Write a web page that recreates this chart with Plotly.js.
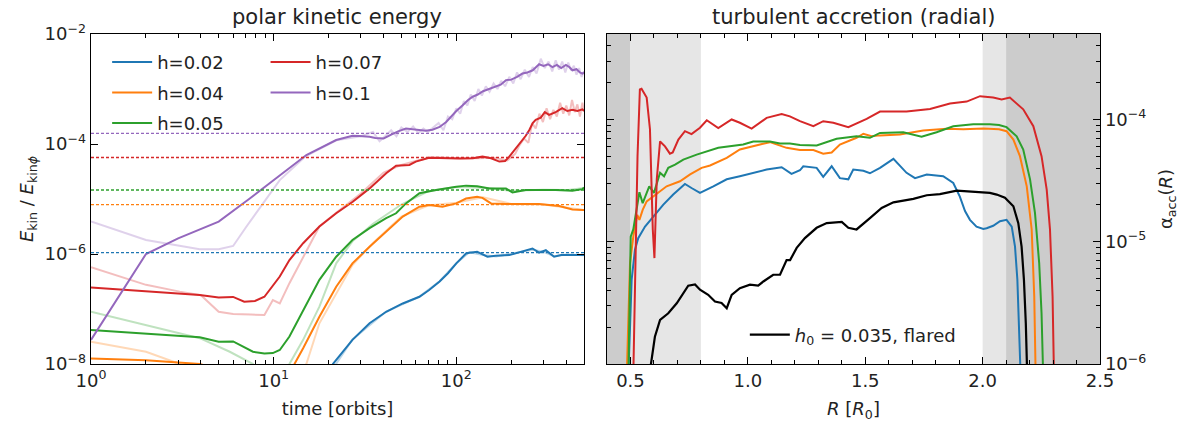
<!DOCTYPE html>
<html>
<head>
<meta charset="utf-8">
<script src="https://cdn.plot.ly/plotly-3.0.1.min.js"></script>
<style>
  html, body { margin: 0; padding: 0; background: #fff; }
  #chart { width: 1192px; height: 428px; }
</style>
</head>
<body>
<div id="chart"></div>
<script>
// ---------------- Left panel: polar kinetic energy ----------------
const hLabels = ["h=0.02", "h=0.04", "h=0.05", "h=0.07", "h=0.1"];
const hColors = ["#1f77b4", "#ff7f0e", "#2ca02c", "#d62728", "#9467bd"];
// saturation levels (dashed lines)
const levels = [1.06e-6, 7.9e-6, 1.46e-5, 5.7e-5, 1.56e-4];

// h=0.02
const t02 = [20, 21.1, 27, 33.5, 41.3, 50.9, 62.8, 71, 81, 90, 100, 113, 118, 130, 148, 164, 195, 230, 261, 284, 309, 343, 375, 430, 500];
const e02 = [6.31e-9, 1.0e-8, 2.75e-8, 5.50e-8, 8.91e-8, 1.26e-7, 1.67e-7, 2.21e-7, 3.16e-7, 4.47e-7, 6.76e-7, 1.02e-6, 1.05e-6, 1.10e-6, 8.91e-7, 9.33e-7, 9.55e-7, 1.10e-6, 1.26e-6, 1.06e-6, 1.17e-6, 8.91e-7, 9.55e-7, 9.55e-7, 9.55e-7];
const t02raw = [20, 27, 41.3, 62.8, 81, 100, 118, 140, 165, 195, 230, 261, 300, 343, 400, 500];
const e02raw = [6.3e-9, 2.8e-8, 9.0e-8, 1.68e-7, 3.2e-7, 6.8e-7, 1.08e-6, 9.6e-7, 9.0e-7, 1.0e-6, 1.08e-6, 1.2e-6, 1.1e-6, 9.1e-7, 9.8e-7, 9.5e-7];

// h=0.04
const t04 = [1, 2, 3.94, 5, 10, 13, 14.5, 17.8, 22, 27, 33.5, 41.3, 50.9, 62.8, 71, 84, 100, 113, 130, 139, 155, 187, 284, 366, 432, 490, 500];
const e04 = [1.26e-8, 1.17e-8, 1.0e-8, 7.9e-9, 3.2e-9, 1.0e-8, 1.93e-8, 7.24e-8, 2.54e-7, 6.76e-7, 1.35e-6, 2.54e-6, 4.79e-6, 7.24e-6, 7.76e-6, 7.24e-6, 8.32e-6, 1.02e-5, 1.10e-5, 1.05e-5, 8.32e-6, 8.13e-6, 8.13e-6, 7.46e-6, 6.46e-6, 6.31e-6, 6.31e-6];
const t04raw = [1, 2, 3.06, 5, 10, 15.1, 17.8, 22, 27, 35, 50, 70, 100, 140, 200, 300, 400, 500];
const e04raw = [2.54e-8, 1.67e-8, 1.0e-8, 5e-9, 3.2e-9, 1.0e-8, 5.50e-8, 1.93e-7, 6.31e-7, 1.58e-6, 4.79e-6, 7.59e-6, 8.51e-6, 1.07e-5, 8.13e-6, 7.94e-6, 6.92e-6, 6.31e-6];

// h=0.05
const t05 = [1, 3.94, 5, 6, 7.7, 8.9, 9.9, 10.8, 12.2, 14.5, 17.8, 22, 27, 33.5, 41.3, 46.8, 53, 62.8, 77.4, 100, 113, 130, 152, 187, 203, 240, 300, 350, 432, 490, 500];
const e05 = [4.17e-8, 3.05e-8, 2.54e-8, 2.57e-8, 1.67e-8, 1.56e-8, 1.58e-8, 1.80e-8, 3.16e-8, 9.55e-8, 3.39e-7, 8.91e-7, 1.80e-6, 2.95e-6, 4.47e-6, 5.50e-6, 8.32e-6, 1.27e-5, 1.46e-5, 1.67e-5, 1.75e-5, 1.70e-5, 1.56e-5, 1.55e-5, 1.32e-5, 1.46e-5, 1.48e-5, 1.46e-5, 1.41e-5, 1.51e-5, 1.62e-5];
const t05raw = [1, 2, 3.94, 5.75, 7.7, 8.5, 11.5, 12.2, 14.5, 17.8, 22, 27, 35, 50, 70, 100, 150, 200, 300, 400, 500];
const e05raw = [8.91e-8, 5.13e-8, 2.95e-8, 1.67e-8, 1.0e-8, 5.0e-9, 5.0e-9, 1.0e-8, 2.75e-8, 1.10e-7, 6.76e-7, 1.70e-6, 3.55e-6, 7.94e-6, 1.38e-5, 1.66e-5, 1.58e-5, 1.41e-5, 1.48e-5, 1.45e-5, 1.58e-5];

// h=0.07
const t07 = [1, 3.94, 5, 6, 6.9, 7.9, 8.9, 10.8, 12.2, 14.5, 17.8, 22, 27.1, 33.5, 41.3, 46.8, 55.3, 60, 71, 81, 91, 105, 123, 139, 155, 172, 185, 195, 210, 230, 240, 251, 262, 272, 290, 305, 322, 350, 380, 405, 432, 460, 490, 500];
const e07 = [2.45e-7, 1.80e-7, 1.62e-7, 1.66e-7, 1.36e-7, 1.40e-7, 1.67e-7, 3.89e-7, 7.76e-7, 1.57e-6, 3.16e-6, 5.50e-6, 8.91e-6, 1.56e-5, 2.95e-5, 4.03e-5, 4.17e-5, 4.79e-5, 5.62e-5, 5.62e-5, 5.50e-5, 5.43e-5, 5.50e-5, 5.89e-5, 5.50e-5, 4.79e-5, 4.90e-5, 5.89e-5, 7.94e-5, 1.17e-4, 1.41e-4, 1.80e-4, 2.40e-4, 2.75e-4, 3.02e-4, 3.80e-4, 3.39e-4, 3.80e-4, 4.47e-4, 3.98e-4, 4.17e-4, 3.98e-4, 4.27e-4, 3.98e-4];
const t07raw = [1, 2, 3.06, 4, 5, 6, 7.5, 8.9, 9.9, 10.8, 12.2, 14.5, 17.8, 22, 30, 40, 50, 60, 70, 80, 100, 130, 160, 190, 210, 222, 235, 248, 260, 272, 285, 298, 312, 326, 340, 355, 370, 385, 400, 415, 430, 445, 460, 475, 490, 500];
const e07raw = [5.75e-7, 2.75e-7, 2.07e-7, 1.78e-7, 8.91e-8, 8.13e-8, 7.94e-8, 7.76e-8, 1.45e-7, 1.26e-7, 2.95e-7, 8.91e-7, 3.16e-6, 5.62e-6, 1.26e-5, 3.02e-5, 4.17e-5, 4.90e-5, 5.62e-5, 5.75e-5, 5.50e-5, 5.50e-5, 5.62e-5, 5.01e-5, 6.61e-5, 9.55e-5, 1.26e-4, 1.05e-4, 2.40e-4, 1.91e-4, 3.55e-4, 2.51e-4, 4.47e-4, 2.82e-4, 4.17e-4, 3.16e-4, 5.62e-4, 3.55e-4, 5.01e-4, 3.31e-4, 6.31e-4, 3.80e-4, 5.25e-4, 3.16e-4, 5.62e-4, 3.98e-4];

// h=0.1
const t10 = [1, 2, 3, 5, 7.4, 10.8, 15.1, 22, 27, 29.5, 33.5, 36, 40, 44, 48, 53, 58, 63, 68, 74, 81, 88, 95, 100, 108, 116, 123, 131, 140, 152, 163, 175, 187, 200, 215, 230, 245, 262, 284, 300, 318, 336, 355, 375, 398, 415, 432, 455, 475, 490, 500];
const e10 = [2.75e-8, 1.0e-6, 1.93e-6, 3.89e-6, 1.02e-5, 2.65e-5, 6.31e-5, 1.18e-4, 1.41e-4, 1.40e-4, 1.36e-4, 1.29e-4, 1.26e-4, 1.48e-4, 1.70e-4, 1.91e-4, 1.86e-4, 1.78e-4, 1.74e-4, 1.82e-4, 2.04e-4, 2.51e-4, 3.31e-4, 3.98e-4, 5.01e-4, 6.31e-4, 7.24e-4, 7.94e-4, 9.12e-4, 1.02e-3, 1.10e-3, 1.20e-3, 1.45e-3, 1.48e-3, 1.66e-3, 1.91e-3, 2.0e-3, 2.19e-3, 2.82e-3, 2.63e-3, 2.82e-3, 2.51e-3, 2.75e-3, 2.40e-3, 2.75e-3, 2.51e-3, 2.19e-3, 2.29e-3, 2.0e-3, 1.91e-3, 2.0e-3];
const t10raw = [1, 2, 3.94, 5, 6, 7.1, 10.8, 15, 22, 30, 35, 38, 41, 44, 47, 50, 54, 58, 62, 66, 70, 75, 80, 85, 90, 95, 100, 105, 110, 115, 120, 126, 132, 138, 145, 152, 160, 168, 176, 185, 195, 205, 215, 225, 237, 250, 262, 275, 290, 305, 320, 335, 350, 365, 380, 395, 410, 425, 440, 455, 470, 485, 500];
const e10raw = [3.89e-6, 1.80e-6, 1.22e-6, 1.22e-6, 1.40e-6, 3.16e-6, 2.21e-5, 6.03e-5, 1.17e-4, 1.38e-4, 1.66e-4, 1.12e-4, 1.41e-4, 1.78e-4, 1.38e-4, 2.0e-4, 1.66e-4, 2.09e-4, 1.58e-4, 1.91e-4, 1.66e-4, 2.0e-4, 2.40e-4, 1.78e-4, 3.16e-4, 2.82e-4, 4.47e-4, 3.55e-4, 6.03e-4, 5.01e-4, 7.94e-4, 6.03e-4, 1.0e-3, 7.59e-4, 1.12e-3, 8.91e-4, 1.26e-3, 1.0e-3, 1.41e-3, 1.12e-3, 1.66e-3, 1.26e-3, 2.0e-3, 1.51e-3, 2.24e-3, 1.66e-3, 2.51e-3, 1.91e-3, 3.55e-3, 2.40e-3, 3.16e-3, 2.09e-3, 3.31e-3, 2.24e-3, 3.16e-3, 2.0e-3, 3.02e-3, 2.19e-3, 2.63e-3, 1.82e-3, 2.40e-3, 1.66e-3, 2.09e-3];

const leftT = [t02, t04, t05, t07, t10];
const leftE = [e02, e04, e05, e07, e10];
const leftTraw = [t02raw, t04raw, t05raw, t07raw, t10raw];
const leftEraw = [e02raw, e04raw, e05raw, e07raw, e10raw];
const tSpan = [1, 500];

// ---------------- Right panel: turbulent accretion ----------------
const R02 = [0.491, 0.505, 0.519, 0.533, 0.562, 0.597, 0.64, 0.682, 0.732, 0.76, 0.796, 0.853, 0.91, 0.966, 1.023, 1.08, 1.144, 1.186, 1.222, 1.236, 1.293, 1.321, 1.357, 1.392, 1.428, 1.449, 1.492, 1.52, 1.563, 1.62, 1.676, 1.712, 1.762, 1.832, 1.875, 1.903, 1.925, 1.946, 1.974, 2.003, 2.017, 2.045, 2.074, 2.102, 2.124, 2.138, 2.148, 2.156, 2.162];
const a02 = [8e-7, 4.90e-6, 8.59e-6, 1.07e-5, 1.33e-5, 1.61e-5, 2.01e-5, 2.43e-5, 2.97e-5, 2.75e-5, 2.51e-5, 2.84e-5, 3.24e-5, 3.43e-5, 3.66e-5, 3.89e-5, 4.07e-5, 3.59e-5, 3.84e-5, 4.14e-5, 4.02e-5, 3.39e-5, 4.14e-5, 3.31e-5, 3.24e-5, 3.89e-5, 3.80e-5, 3.63e-5, 4.02e-5, 4.76e-5, 3.66e-5, 3.31e-5, 3.55e-5, 3.43e-5, 3.02e-5, 2.34e-5, 1.78e-5, 1.51e-5, 1.33e-5, 1.27e-5, 1.29e-5, 1.35e-5, 1.47e-5, 1.51e-5, 1.33e-5, 9.12e-6, 4.90e-6, 2.15e-6, 8e-7];

const R04 = [0.484, 0.498, 0.512, 0.529, 0.538, 0.552, 0.569, 0.59, 0.619, 0.654, 0.711, 0.754, 0.803, 0.839, 0.91, 0.966, 1.052, 1.094, 1.165, 1.222, 1.279, 1.321, 1.357, 1.392, 1.463, 1.492, 1.527, 1.563, 1.648, 1.747, 1.847, 1.918, 2.003, 2.07, 2.102, 2.131, 2.159, 2.188, 2.209, 2.22, 2.226];
const a04 = [8e-7, 6.68e-6, 1.10e-5, 1.66e-5, 1.51e-5, 1.82e-5, 2.14e-5, 2.29e-5, 2.51e-5, 2.84e-5, 3.12e-5, 3.55e-5, 4.02e-5, 4.20e-5, 4.85e-5, 5.68e-5, 6.24e-5, 6.52e-5, 5.86e-5, 5.62e-5, 5.62e-5, 5.25e-5, 5.37e-5, 6.24e-5, 7.08e-5, 7.64e-5, 7.29e-5, 7.41e-5, 7.53e-5, 8.13e-5, 8.38e-5, 8.32e-5, 8.43e-5, 8.32e-5, 8.02e-5, 6.85e-5, 5.01e-5, 2.84e-5, 1.26e-5, 3.55e-6, 8e-7];

const R05 = [0.491, 0.501, 0.512, 0.526, 0.538, 0.552, 0.58, 0.6, 0.626, 0.643, 0.661, 0.69, 0.725, 0.782, 0.874, 0.98, 1.023, 1.094, 1.137, 1.179, 1.222, 1.293, 1.378, 1.463, 1.52, 1.563, 1.662, 1.74, 1.804, 1.875, 1.96, 2.031, 2.07, 2.102, 2.145, 2.173, 2.202, 2.223, 2.241, 2.251, 2.258];
const a05 = [8e-7, 1.10e-5, 1.26e-5, 1.82e-5, 2.54e-5, 2.07e-5, 2.84e-5, 2.51e-5, 3.66e-5, 3.43e-5, 4.02e-5, 4.27e-5, 4.70e-5, 5.16e-5, 5.86e-5, 6.24e-5, 6.61e-5, 6.61e-5, 6.35e-5, 6.35e-5, 6.17e-5, 6.12e-5, 6.95e-5, 7.29e-5, 7.08e-5, 7.76e-5, 7.87e-5, 7.21e-5, 7.87e-5, 8.81e-5, 9.12e-5, 9.12e-5, 9.02e-5, 8.65e-5, 7.29e-5, 5.68e-5, 3.24e-5, 1.72e-5, 6.68e-6, 2.60e-6, 8e-7];

const R07 = [0.512, 0.53, 0.54, 0.547, 0.569, 0.583, 0.595, 0.602, 0.612, 0.626, 0.647, 0.668, 0.68, 0.704, 0.732, 0.76, 0.796, 0.825, 0.874, 0.931, 0.966, 1.016, 1.08, 1.144, 1.179, 1.222, 1.279, 1.321, 1.364, 1.428, 1.506, 1.563, 1.676, 1.776, 1.861, 1.932, 1.989, 2.045, 2.081, 2.116, 2.173, 2.216, 2.251, 2.273, 2.287, 2.298, 2.304];
const a07 = [8e-7, 5.01e-5, 1.76e-4, 1.78e-4, 1.51e-4, 8.32e-5, 1.26e-5, 7.35e-6, 3.24e-5, 6.61e-5, 6.03e-5, 5.25e-5, 5.37e-5, 6.85e-5, 8.02e-5, 7.59e-5, 8.55e-5, 9.86e-5, 8.49e-5, 1.0e-4, 9.4e-5, 8.43e-5, 1.03e-4, 1.11e-4, 1.06e-4, 9.68e-5, 8.81e-5, 9.68e-5, 9.4e-5, 8.65e-5, 1.01e-4, 1.16e-4, 1.16e-4, 1.22e-4, 1.35e-4, 1.40e-4, 1.55e-4, 1.51e-4, 1.46e-4, 1.51e-4, 1.21e-4, 8.81e-5, 5.01e-5, 2.67e-5, 1.26e-5, 3.55e-6, 8e-7];

const Rflared = [0.58, 0.604, 0.626, 0.661, 0.697, 0.725, 0.746, 0.775, 0.796, 0.831, 0.86, 0.888, 0.91, 0.931, 0.966, 1.009, 1.044, 1.066, 1.108, 1.137, 1.165, 1.18, 1.208, 1.243, 1.293, 1.336, 1.4, 1.428, 1.463, 1.52, 1.57, 1.62, 1.705, 1.762, 1.818, 1.89, 1.96, 2.031, 2.06, 2.095, 2.131, 2.152, 2.166, 2.176, 2.184, 2.19];
const aFlared = [8e-7, 1.67e-6, 2.29e-6, 2.60e-6, 3.14e-6, 3.80e-6, 4.37e-6, 4.47e-6, 4.05e-6, 3.68e-6, 3.24e-6, 3.16e-6, 2.86e-6, 3.68e-6, 4.17e-6, 4.45e-6, 4.37e-6, 4.73e-6, 5.37e-6, 5.37e-6, 7.08e-6, 7.08e-6, 8.91e-6, 1.07e-5, 1.30e-5, 1.42e-5, 1.45e-5, 1.30e-5, 1.26e-5, 1.56e-5, 1.89e-5, 2.10e-5, 2.24e-5, 2.40e-5, 2.45e-5, 2.62e-5, 2.57e-5, 2.51e-5, 2.43e-5, 2.29e-5, 1.95e-5, 1.42e-5, 9.12e-6, 4.90e-6, 2.15e-6, 8e-7];
const flaredLabel = "<i>h</i><sub>0</sub> = 0.035, flared";

const rightR = [R02, R04, R05, R07];
const rightA = [a02, a04, a05, a07];
const rightColors = ["#1f77b4", "#ff7f0e", "#2ca02c", "#d62728"];

// shaded zones: [x0, x1] and colour
const zoneEdges = [[0.4, 0.5], [0.5, 0.8], [2.0, 2.1], [2.1, 2.5]];
const zoneColors = ["#cccccc", "#e6e6e6", "#e6e6e6", "#cccccc"];

// tick labels
const leftYTicks = [1e-8, 1e-6, 1e-4, 1e-2];
const leftYText = ["10<sup>−8</sup>", "10<sup>−6</sup>", "10<sup>−4</sup>", "10<sup>−2</sup>"];
const leftXTicks = [1, 10, 100];
const leftXText = ["10<sup>0</sup>", "10<sup>1</sup>", "10<sup>2</sup>"];
const leftXMinor = [2,3,4,5,6,7,8,9,20,30,40,50,60,70,80,90,200,300,400];
const rightXTicks = [0.5, 1.0, 1.5, 2.0, 2.5];
const rightXText = ["0.5", "1.0", "1.5", "2.0", "2.5"];
const rightYTicks = [1e-6, 1e-5, 1e-4];
const rightYText = ["10<sup>−6</sup>", "10<sup>−5</sup>", "10<sup>−4</sup>"];
const rightYMinor = [2e-6,3e-6,4e-6,5e-6,6e-6,7e-6,8e-6,9e-6,2e-5,3e-5,4e-5,5e-5,6e-5,7e-5,8e-5,9e-5,2e-4,3e-4,4e-4];

// ---------------- build traces ----------------
const traces = [];
// faint raw curves
for (let i = 0; i < 5; i++) {
  traces.push({x: leftTraw[i], y: leftEraw[i], xaxis: "x", yaxis: "y", mode: "lines",
    line: {color: hColors[i], width: 2}, opacity: 0.3, showlegend: false, hoverinfo: "skip"});
}
// solid curves (legend)
const legendOf = ["legend", "legend", "legend", "legend3", "legend3"];
for (let i = 0; i < 5; i++) {
  traces.push({x: leftT[i], y: leftE[i], xaxis: "x", yaxis: "y", mode: "lines", name: hLabels[i],
    line: {color: hColors[i], width: 2}, legend: legendOf[i], legendgroup: "g" + i});
}
// dashed saturation levels
for (let i = 0; i < levels.length; i++) {
  traces.push({x: tSpan, y: [levels[i], levels[i]], xaxis: "x", yaxis: "y", mode: "lines",
    line: {color: hColors[i], width: 1.4, dash: "3px,2px"}, showlegend: false, hoverinfo: "skip"});
}
// right panel
for (let i = 0; i < 4; i++) {
  traces.push({x: rightR[i], y: rightA[i], xaxis: "x2", yaxis: "y2", mode: "lines",
    line: {color: rightColors[i], width: 2}, showlegend: false});
}
traces.push({x: Rflared, y: aFlared, xaxis: "x2", yaxis: "y2", mode: "lines", name: flaredLabel,
  line: {color: "#000000", width: 2.2}, legend: "legend2"});

const shapes = zoneEdges.map((z, i) => ({type: "rect", xref: "x2", yref: "y2 domain",
  x0: z[0], x1: z[1], y0: 0, y1: 1, fillcolor: zoneColors[i], line: {width: 0}, layer: "below"}));

const FONT = "DejaVu Sans, sans-serif";
const TXT = "#222222";
const axCommon = {showline: true, linecolor: "#000", linewidth: 1.3, mirror: "allticks", ticks: "inside",
  tickcolor: "#000", tickwidth: 1, ticklen: 7, showgrid: false, zeroline: false,
  tickfont: {family: FONT, size: 18, color: TXT}};

const layout = {
  width: 1192, height: 428,
  margin: {l: 91, r: 92, t: 34, b: 64, pad: 0},
  paper_bgcolor: "#ffffff", plot_bgcolor: "rgba(0,0,0,0)",
  font: {family: FONT, color: TXT},
  showlegend: true,
  xaxis: Object.assign({}, axCommon, {type: "log", domain: [0, 0.4886], range: [0, Math.log10(500)],
    anchor: "y", tickmode: "array", tickvals: leftXTicks, ticktext: leftXText,
    minor: {tickmode: "array", tickvals: leftXMinor, ticks: "inside", ticklen: 4, tickcolor: "#000", tickwidth: 1},
    title: {text: "time [orbits]", font: {family: FONT, size: 18, color: TXT}, standoff: 12}}),
  yaxis: Object.assign({}, axCommon, {type: "log", range: [-8, -2], anchor: "x",
    tickmode: "array", tickvals: leftYTicks, ticktext: leftYText,
    title: {text: "<i>E</i><sub>kin</sub> / <i>E</i><sub>kin<i>ϕ</i></sub>", font: {family: FONT, size: 18, color: TXT}, standoff: 6}}),
  xaxis2: Object.assign({}, axCommon, {domain: [0.5114, 1], range: [0.4, 2.5], anchor: "y2",
    tickmode: "array", tickvals: rightXTicks, ticktext: rightXText,
    minor: {dtick: 0.1, ticks: "inside", ticklen: 4, tickcolor: "#000", tickwidth: 1},
    title: {text: "<i>R</i> [<i>R</i><sub>0</sub>]", font: {family: FONT, size: 18, color: TXT}, standoff: 12}}),
  yaxis2: Object.assign({}, axCommon, {type: "log", range: [-6, Math.log10(5e-4)], anchor: "x2", side: "right",
    tickmode: "array", tickvals: rightYTicks, ticktext: rightYText,
    minor: {tickmode: "array", tickvals: rightYMinor, ticks: "inside", ticklen: 4, tickcolor: "#000", tickwidth: 1},
    title: {text: "α<sub>acc</sub>(<i>R</i>)", font: {family: FONT, size: 18, color: TXT}, standoff: 14}}),
  legend: {x: 0.016, y: 0.97, xanchor: "left", yanchor: "top", bgcolor: "rgba(0,0,0,0)", borderwidth: 0,
    font: {family: FONT, size: 18, color: TXT}, tracegroupgap: 4, itemwidth: 40},
  legend3: {x: 0.173, y: 0.97, xanchor: "left", yanchor: "top", bgcolor: "rgba(0,0,0,0)", borderwidth: 0,
    font: {family: FONT, size: 18, color: TXT}, tracegroupgap: 4, itemwidth: 40},
  legend2: {x: 0.648, y: 0.088, xanchor: "left", yanchor: "middle", bgcolor: "rgba(0,0,0,0)", borderwidth: 0,
    font: {family: FONT, size: 18, color: TXT}, itemwidth: 40},
  shapes: shapes,
  annotations: [
    {text: "polar kinetic energy", xref: "paper", yref: "paper", x: 0.2443, y: 1.052, xanchor: "center", yanchor: "middle",
      showarrow: false, font: {family: FONT, size: 21, color: TXT}},
    {text: "turbulent accretion (radial)", xref: "paper", yref: "paper", x: 0.7557, y: 1.052, xanchor: "center", yanchor: "middle",
      showarrow: false, font: {family: FONT, size: 21, color: TXT}}
  ]
};

Plotly.newPlot("chart", traces, layout, {staticPlot: true, displayModeBar: false});
</script>
</body>
</html>
